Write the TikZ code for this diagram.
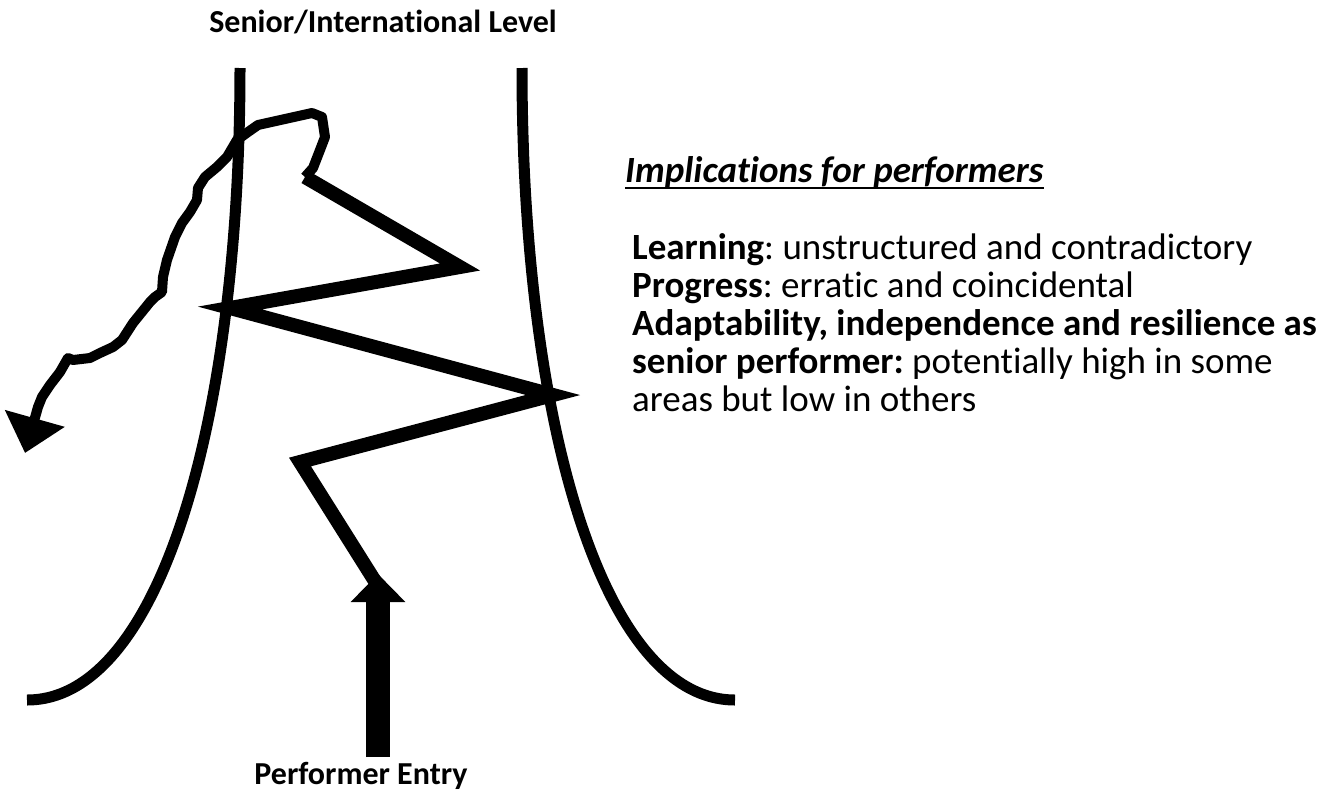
\documentclass[tikz,border=0pt]{standalone}
\usepackage{fontspec}
\setmainfont{Carlito}[Ligatures=NoCommon]
\usetikzlibrary{arrows.meta}
\frenchspacing

\begin{document}
\begin{tikzpicture}[x=1pt, y=-1pt,
    rim/.style={line width=11pt},
    zig/.style={line width=14pt, miter limit=20},
    wiggle/.style={line width=10pt, line join=round},
    label/.style={font=\bfseries\fontsize{32}{38}\selectfont, inner sep=0pt},
    body/.style={font=\fontsize{37}{38}\selectfont, inner sep=0pt, align=left}]
  \useasboundingbox (0,0) rectangle (1340,795);

  % Nodes
  \node[label, anchor=base] at (383,32) (senior) {Senior/International Level};
  \node[label, anchor=base] at (361,784) (entry) {Performer Entry};
  \node[body, anchor=base west] at (625,182) (impl) {\textbf{\textit{Implications for performers}}};
  \draw[line width=2.5pt] ([yshift=-6pt]impl.base west) -- ([yshift=-6pt]impl.base east);
  % last line sits on y=411, first on y=259
  \node[body, anchor=base west] at (632,411) (notes) {\textbf{Learning}: unstructured and contradictory\\
    \textbf{Progress}: erratic and coincidental\\
    \textbf{Adaptability, independence and resilience as}\\
    \textbf{senior performer:} potentially high in some\\
    areas but low in others};

  % Funnel
  \draw[rim] (240,68) .. controls (240,420) and (160,700) .. (27,700);
  \draw[rim] (522,68) .. controls (522,420) and (602,700) .. (735,700);

  % Pathway
  \coordinate (z1) at (305,177);
  \coordinate (z2) at (460,267);
  \coordinate (z3) at (230,308);
  \coordinate (z4) at (553,395);
  \coordinate (z5) at (300,462);
  \coordinate (z6) at (378,586);
  \coordinate (start) at (378,757);
  \coordinate (out) at (25,453);

  \draw[line width=24pt, -{Triangle[length=28pt, width=53pt]}] (start) -- (378,574);
  \draw[zig] (z1) -- (z2) -- (z3) -- (z4) -- (z5) -- (z6);
  \draw[wiggle, -{Triangle[length=36pt, width=60pt]}] (z1) -- (313,168) -- (320,150) -- (325,137)
    -- (322,117) -- (312,113) -- (258,125) -- (248,132) -- (237,140) -- (227,157) -- (217,167)
    -- (205,177) -- (198,188) -- (197,200) -- (190,212) -- (182,223) -- (175,237) -- (167,260)
    -- (163,277) -- (162,292) -- (155,297) -- (150,302) -- (133,323) -- (122,340) -- (113,347)
    -- (100,353) -- (90,358) -- (73,360) -- (68,358) -- (60,372) -- (50,385) -- (42,397)
    -- (38,407) -- (out);
\end{tikzpicture}
\end{document}
